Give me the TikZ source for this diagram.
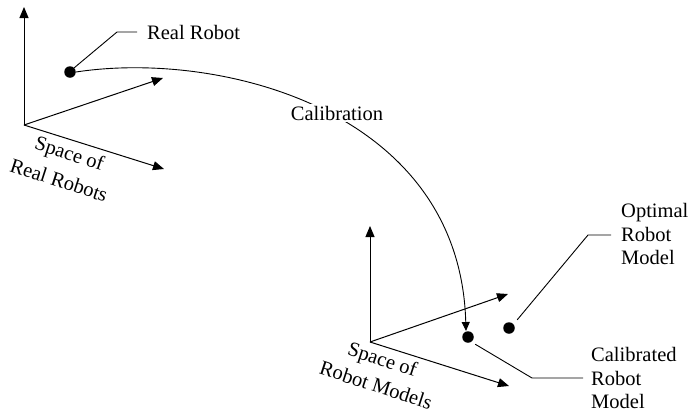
\documentclass[tikz,border=0pt]{standalone}
\usepackage{fontspec}
\setmainfont{Liberation Serif}
\usetikzlibrary{arrows.meta}
\begin{document}
\begin{tikzpicture}[x=1pt,y=-1pt,
  axis/.style={line width=1pt,-{Triangle[length=11pt,width=9pt]}},
  lead/.style={line width=0.9pt},
  dotnode/.style={circle,fill=black,inner sep=0pt,minimum size=11.5pt},
  lbl/.style={inner sep=0pt,font=\fontsize{20.5}{23.5}\selectfont},
  rlbl/.style={lbl,rotate=-18},
  font=\fontsize{20.5}{23.5}\selectfont]
\useasboundingbox (0,0) rectangle (689,413);
% left axes
\coordinate (o1) at (24,125);
\coordinate (o1z) at (24,7);
\coordinate (o1y) at (163,78);
\coordinate (o1x) at (164,169);
\draw[axis] (o1) -- (o1z);
\draw[axis] (o1) -- (o1y);
\draw[axis] (o1) -- (o1x);
\node[rlbl] (sp1a) at (69,155) {Space of};
\node[rlbl] (sp1b) at (59,180) {Real Robots};
% right axes
\coordinate (o2) at (370,342);
\coordinate (o2z) at (370,226);
\coordinate (o2y) at (508,294);
\coordinate (o2x) at (509,386);
\draw[axis] (o2) -- (o2z);
\draw[axis] (o2) -- (o2y);
\draw[axis] (o2) -- (o2x);
\node[rlbl] (sp2a) at (382,361) {Space of};
\node[rlbl] (sp2b) at (376,385) {Robot Models};
% dots
\node[dotnode] (real) at (70,72) {};
\node[dotnode] (cal) at (468,337) {};
\node[dotnode] (opt) at (509,328) {};
% calibration curve
\coordinate (tip) at (466,331);
\draw[line width=0.9pt,-{Triangle[length=9pt,width=8pt]}] (real.east) .. controls (220,50) and (460,110) .. (tip);
\node[lbl,fill=white,inner sep=2pt] (calib) at (337,113) {Calibration};
% real robot label
\node[lbl,anchor=west] (realtxt) at (147,32) {Real Robot};
\coordinate (rk) at (117,32);
\coordinate (re) at (137,32);
\draw[lead] (real.north east) -- (rk) -- (re);
% optimal label
\node[lbl,anchor=west,align=left] (opttxt) at (621,234) {Optimal\\Robot\\Model};
\coordinate (ok) at (588,235);
\coordinate (oe) at (611,235);
\draw[lead] ([shift={(4,-4)}]opt.north east) -- (ok) -- (oe);
% calibrated label
\node[lbl,anchor=west,align=left] (caltxt) at (591,378) {Calibrated\\Robot\\Model};
\coordinate (ck) at (532,378);
\coordinate (ce) at (583,378);
\draw[lead] ([shift={(3,3)}]cal.south east) -- (ck) -- (ce);
\end{tikzpicture}
\end{document}
